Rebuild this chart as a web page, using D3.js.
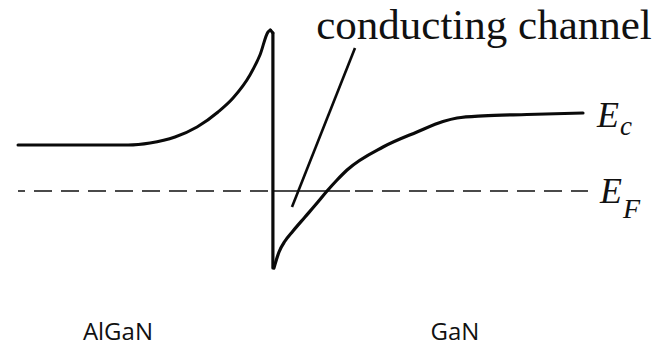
<!DOCTYPE html>
<html>
<head>
<meta charset="utf-8">
<script src="https://cdn.jsdelivr.net/npm/d3@7"></script>
<style>
  html, body { margin: 0; padding: 0; background: #fff; }
  svg { display: block; }
</style>
</head>
<body>
<svg id="chart" width="662" height="348"></svg>
<script>
// Conduction band edge across the AlGaN / GaN heterojunction (position in nm, energy in eV, E_F = 0)
const ecAlGaN = [
  [-25, 0.46], [-14.2, 0.46], [-12.05, 0.48], [-9.6, 0.54], [-7.44, 0.64],
  [-5.38, 0.79], [-3.91, 0.93], [-2.25, 1.16], [-1.27, 1.36], [-0.48, 1.59],
  [-0.25, 1.61]
];
const ecJump = [[0.0, 1.58], [0.0, -0.77]];
const ecGaN = [
  [0.1, -0.77], [0.6, -0.61], [1.19, -0.50], [1.97, -0.40], [3.15, -0.26],
  [4.33, -0.12], [5.31, 0.0], [6.29, 0.11], [7.27, 0.21], [10.8, 0.44],
  [14.13, 0.59], [16.68, 0.695], [18.06, 0.73], [20.61, 0.752], [24.92, 0.765],
  [30.41, 0.78]
];
// Fermi level: dashed outside the well, solid across it
const fermiLevel = 0;
const fermiDashed = [[-25, -0.05], [8.05, 30.9]];
const fermiSolid = [[-0.05, 7.56]];
// Pointer from the label down into the 2DEG well
const pointer = [[1.87, -0.16], [8.05, 1.43]];
const channelLabel = { text: "conducting channel", x: 4.25, e: 1.52 };
const layerNames = ["AlGaN", "GaN"];
const layerCenters = [-15.2, 17.85];

const svg = d3.select("#chart");
const x = d3.scaleLinear().domain([-25, 31]).range([18, 589]);
const y = d3.scaleLinear().domain([-1, 2]).range([291, -9]);

svg.append("rect").attr("width", 662).attr("height", 348).attr("fill", "#fff");

const curve = d3.line().x(d => x(d[0])).y(d => y(d[1])).curve(d3.curveMonotoneX);
const straight = d3.line().x(d => x(d[0])).y(d => y(d[1]));

// Fermi level
const fermi = svg.append("g").attr("stroke", "#4a4a4a").attr("stroke-width", 2).attr("fill", "none");
fermiDashed.forEach((seg, i) => {
  fermi.append("line")
    .attr("x1", x(seg[0])).attr("x2", x(seg[1]))
    .attr("y1", y(fermiLevel)).attr("y2", y(fermiLevel))
    .attr("stroke-dasharray", "18,9")
    .attr("stroke-dashoffset", i === 0 ? 11 : 0);
});
fermiSolid.forEach(seg => {
  fermi.append("line")
    .attr("x1", x(seg[0])).attr("x2", x(seg[1]))
    .attr("y1", y(fermiLevel)).attr("y2", y(fermiLevel));
});

// Conduction band
const band = svg.append("g").attr("stroke", "#0a0a0a").attr("fill", "none")
  .attr("stroke-linejoin", "round").attr("stroke-linecap", "round");
band.append("path").attr("d", curve(ecAlGaN)).attr("stroke-width", 3);
band.append("path").attr("d", straight([ecAlGaN[ecAlGaN.length - 1], ecJump[0]])).attr("stroke-width", 3);
band.append("path").attr("d", straight(ecJump)).attr("stroke-width", 3.2);
band.append("path").attr("d", curve(ecGaN)).attr("stroke-width", 3.2);

// Pointer and its label
svg.append("path").attr("d", straight(pointer))
  .attr("stroke", "#0a0a0a").attr("stroke-width", 2.6).attr("fill", "none");
svg.append("text")
  .attr("x", x(channelLabel.x)).attr("y", y(channelLabel.e))
  .attr("font-family", "'Liberation Serif', 'Times New Roman', serif")
  .attr("font-size", 43).attr("fill", "#111")
  .text(channelLabel.text);

// Level labels E_c and E_F
const levelLabels = [
  { sub: "c", e: ecGaN[ecGaN.length - 1][1], subDy: 8, subSize: 27 },
  { sub: "F", e: fermiLevel, subDy: 15, subSize: 28 }
];
levelLabels.forEach((d, i) => {
  const t = svg.append("text")
    .attr("x", i === 0 ? 597 : 600)
    .attr("y", y(d.e) + (i === 0 ? 14 : 12))
    .attr("font-family", "'Liberation Serif', 'Times New Roman', serif")
    .attr("font-style", "italic").attr("font-size", 36).attr("fill", "#111");
  t.append("tspan").text("E");
  t.append("tspan").attr("font-size", d.subSize).attr("dy", d.subDy).attr("dx", 1).text(d.sub);
});

// Layer names
svg.append("g").selectAll("text").data(layerNames).join("text")
  .attr("x", (d, i) => x(layerCenters[i]))
  .attr("y", 340)
  .attr("text-anchor", "middle")
  .attr("font-family", "'Open Sans', 'Noto Sans', sans-serif")
  .attr("font-size", 24).attr("fill", "#111")
  .text(d => d);
</script>
</body>
</html>
